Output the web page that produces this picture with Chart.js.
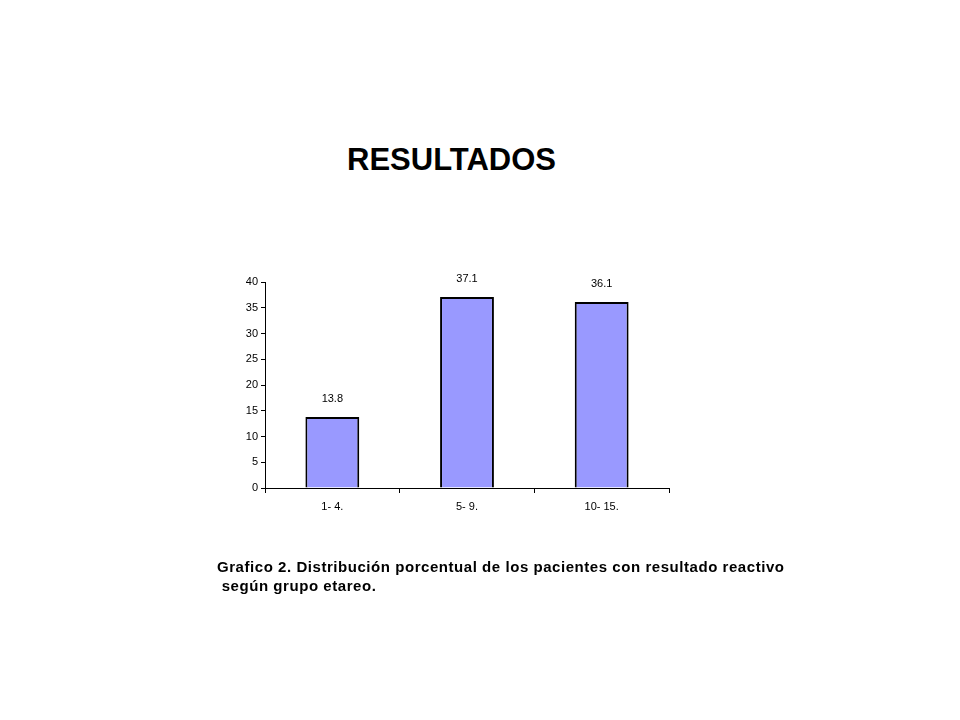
<!DOCTYPE html>
<html lang="es">
<head>
    <meta charset="UTF-8">
    <title>Resultados</title>
    <script src="https://cdn.jsdelivr.net/npm/chart.js"></script>
    <style>
        html, body {
            margin: 0;
            padding: 0;
            background: #fff;
            font-family: "Liberation Sans", Arial, sans-serif;
        }
        .page {
            position: relative;
            width: 960px;
            height: 720px;
            overflow: hidden;
        }
        .title {
            position: absolute;
            left: 347px;
            top: 142px;
            font-size: 31px;
            font-weight: bold;
            color: #000;
            white-space: nowrap;
        }
        .caption {
            position: absolute;
            left: 217px;
            top: 557px;
            font-size: 15px;
            letter-spacing: 0.55px;
            font-weight: bold;
            line-height: 19px;
            color: #000;
            white-space: pre;
        }
        #chart {
            position: absolute;
            left: 0;
            top: 0;
        }
    </style>
</head>
<body>
    <div class="page">
        <div class="title">RESULTADOS</div>
        <canvas id="chart" width="960" height="720"></canvas>
        <div class="caption">Grafico 2. Distribución porcentual de los pacientes con resultado reactivo
 según grupo etareo.</div>
    </div>

    <script>
        const ageGroups = ['1- 4.', '5- 9.', '10- 15.'];
        const percentages = [13.8, 37.1, 36.1];
        const valueLabels = ['13.8', '37.1', '36.1'];
        const yTicks = [0, 5, 10, 15, 20, 25, 30, 35, 40];

        // draws the numbers above each bar
        const barLabels = {
            id: 'barLabels',
            afterDatasetsDraw(chart) {
                const ctx = chart.ctx;
                const meta = chart.getDatasetMeta(0);
                ctx.save();
                ctx.font = '11px "Liberation Sans", Arial, sans-serif';
                ctx.fillStyle = '#000';
                ctx.textAlign = 'center';
                ctx.textBaseline = 'middle';
                meta.data.forEach((bar, i) => {
                    ctx.fillText(valueLabels[i], bar.x, bar.y - 18);
                });
                ctx.restore();
            }
        };

        const tickFont = { family: '"Liberation Sans", Arial, sans-serif', size: 11 };

        new Chart(document.getElementById('chart'), {
            type: 'bar',
            data: {
                labels: ageGroups,
                datasets: [{
                    data: percentages,
                    backgroundColor: '#9999ff',
                    borderColor: '#000',
                    borderWidth: 2,
                    barPercentage: 0.4,
                    categoryPercentage: 1
                }]
            },
            options: {
                responsive: false,
                animation: false,
                layout: {
                    padding: { left: 0, right: 291, top: 282, bottom: 202 }
                },
                plugins: {
                    legend: { display: false },
                    tooltip: { enabled: false }
                },
                scales: {
                    x: {
                        afterFit: scale => { scale.height = 30; },
                        grid: {
                            drawOnChartArea: false,
                            drawTicks: true,
                            tickLength: 5,
                            color: '#000'
                        },
                        border: { color: '#000', width: 1 },
                        ticks: { color: '#000', font: tickFont, padding: 7 }
                    },
                    y: {
                        min: 0,
                        max: 40,
                        afterFit: scale => { scale.width = 265; },
                        afterBuildTicks: scale => {
                            scale.ticks = yTicks.map(v => ({ value: v }));
                        },
                        grid: {
                            drawOnChartArea: false,
                            drawTicks: true,
                            tickLength: 4,
                            color: '#000'
                        },
                        border: { color: '#000', width: 1 },
                        ticks: { color: '#000', font: tickFont, padding: 3 }
                    }
                }
            },
            plugins: [barLabels]
        });
    </script>
</body>
</html>
